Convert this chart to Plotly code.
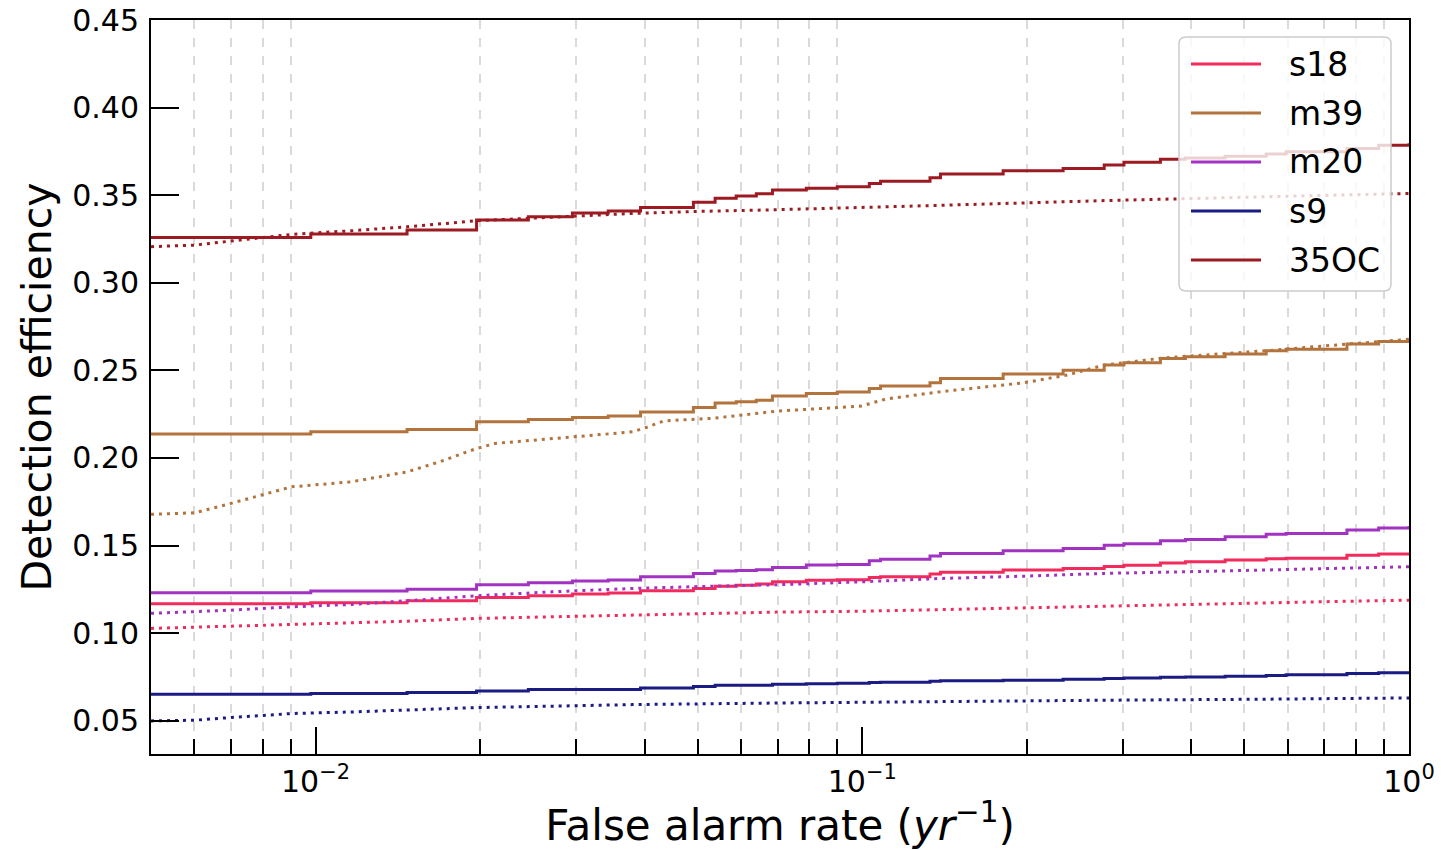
import math
import plotly.graph_objects as go

# ---------------- data ----------------
names = ["s18", "m39", "m20", "s9", "35OC"]
colors = ["#f22b5d", "#b3733d", "#a233c2", "#1b1b84", "#9c1a22"]

# false alarm rates (yr^-1) where the solid (step) curves change
far_steps = [0.005, 0.0098, 0.0147, 0.0197, 0.0245, 0.0295, 0.0343, 0.0393, 0.0491,
             0.0538, 0.0588, 0.064, 0.0685, 0.079, 0.090, 0.103, 0.108, 0.133, 0.139,
             0.181, 0.233, 0.277, 0.301, 0.351, 0.390, 0.461, 0.548, 0.596, 0.770,
             0.88, 1.0]

eff_s18 = [0.1168, 0.1174, 0.1185, 0.1204, 0.1213, 0.1223, 0.1229, 0.1242, 0.1255,
           0.1268, 0.1274, 0.1280, 0.1293, 0.1302, 0.1305, 0.1318, 0.1322, 0.1337, 0.1348,
           0.1360, 0.1369, 0.1380, 0.1388, 0.1401, 0.1408, 0.1417, 0.1424, 0.1428, 0.1445,
           0.1452, 0.1460]
eff_m39 = [0.2136, 0.2149, 0.2163, 0.2206, 0.2220, 0.2231, 0.2239, 0.2262, 0.2288,
           0.2313, 0.2321, 0.2330, 0.2353, 0.2368, 0.2376, 0.2397, 0.2410, 0.2429, 0.2454,
           0.2479, 0.2501, 0.2530, 0.2543, 0.2568, 0.2578, 0.2593, 0.2612, 0.2620, 0.2650,
           0.2665, 0.2677]
eff_m20 = [0.1231, 0.1240, 0.1250, 0.1276, 0.1288, 0.1297, 0.1303, 0.1322, 0.1341,
           0.1354, 0.1358, 0.1362, 0.1375, 0.1389, 0.1392, 0.1413, 0.1422, 0.1440, 0.1455,
           0.1470, 0.1483, 0.1502, 0.1510, 0.1527, 0.1535, 0.1550, 0.1565, 0.1569, 0.1588,
           0.1600, 0.1612]
eff_s9 = [0.0651, 0.0655, 0.0661, 0.0670, 0.0678, 0.0678, 0.0678, 0.0687, 0.0695,
          0.0703, 0.0703, 0.0703, 0.0708, 0.0711, 0.0714, 0.0718, 0.0720, 0.0725, 0.0728,
          0.0731, 0.0736, 0.0741, 0.0744, 0.0748, 0.0750, 0.0754, 0.0758, 0.0762, 0.0770,
          0.0774, 0.0777]
eff_35oc = [0.3259, 0.3278, 0.3301, 0.3358, 0.3377, 0.3398, 0.3409, 0.3430, 0.3459,
            0.3482, 0.3495, 0.3508, 0.3529, 0.3539, 0.3548, 0.3567, 0.3580, 0.3600, 0.3621,
            0.3640, 0.3653, 0.3672, 0.3688, 0.3705, 0.3712, 0.3722, 0.3735, 0.3748, 0.3767,
            0.3785, 0.3796]

# dotted curves
far_dot_35oc = [0.005, 0.00601, 0.00699, 0.0080, 0.00904, 0.01164, 0.01473, 0.0197,
                0.0271, 0.038, 0.0498, 0.0697, 0.139, 0.277, 0.548, 1.0]
dot_35oc = [0.3206, 0.3215, 0.3238, 0.3259, 0.3276, 0.3297, 0.3320, 0.3354,
            0.3373, 0.3396, 0.3407, 0.3417, 0.3442, 0.3469, 0.3491, 0.3510]

far_dot_m39 = [0.005, 0.00601, 0.00699, 0.0080, 0.00904, 0.01164, 0.01473, 0.01686,
               0.0197, 0.02134, 0.0271, 0.038, 0.0406, 0.0434, 0.0532, 0.0697, 0.0996,
               0.1103, 0.139, 0.1974, 0.2368, 0.277, 0.358, 0.548, 0.770, 1.0]
dot_m39 = [0.1678, 0.1687, 0.1740, 0.1792, 0.1835, 0.1864, 0.1921, 0.1978,
           0.2054, 0.2083, 0.2111, 0.2149, 0.2178, 0.2212, 0.2226, 0.2267, 0.2296,
           0.2336, 0.2378, 0.2429, 0.2473, 0.2530, 0.2572, 0.2612, 0.2650, 0.2677]

far_dot_mid = [0.005, 0.00699, 0.00904, 0.01164, 0.01473, 0.0197, 0.0271, 0.038,
               0.0532, 0.0697, 0.0996, 0.139, 0.1974, 0.277, 0.389, 0.548, 0.770, 1.0]
dot_m20 = [0.1113, 0.1131, 0.1150, 0.1164, 0.1185, 0.1213, 0.1236, 0.1255,
           0.1268, 0.1276, 0.1293, 0.1312, 0.1325, 0.1341, 0.1350, 0.1360, 0.1369, 0.1379]
dot_s18 = [0.1027, 0.1040, 0.1051, 0.1059, 0.1068, 0.1084, 0.1093, 0.1106,
           0.1116, 0.1120, 0.1125, 0.1135, 0.1144, 0.1154, 0.1164, 0.1175, 0.1182, 0.1188]

far_dot_s9 = [0.005, 0.00601, 0.00699, 0.0080, 0.00904, 0.01164, 0.0197, 0.0271,
              0.038, 0.0697, 0.139, 0.277, 0.548, 1.0]
dot_s9 = [0.0499, 0.0503, 0.0518, 0.0531, 0.0541, 0.0550, 0.0575, 0.0583,
          0.0592, 0.0601, 0.0611, 0.0617, 0.0623, 0.0630]

y_ticks = [0.05, 0.10, 0.15, 0.20, 0.25, 0.30, 0.35, 0.40, 0.45]
y_ticktext = ["0.05", "0.10", "0.15", "0.20", "0.25", "0.30", "0.35", "0.40", "0.45"]
x_ticks = [0.01, 0.1, 1]
x_ticktext = ["10<sup>−2</sup>", "10<sup>−1</sup>", "10<sup>0</sup>"]
x_minor = [0.006, 0.007, 0.008, 0.009, 0.02, 0.03, 0.04, 0.05, 0.06, 0.07, 0.08, 0.09,
           0.2, 0.3, 0.4, 0.5, 0.6, 0.7, 0.8, 0.9]

solid = {"s18": eff_s18, "m39": eff_m39, "m20": eff_m20, "s9": eff_s9, "35OC": eff_35oc}
dotted = {"s18": (far_dot_mid, dot_s18), "m39": (far_dot_m39, dot_m39),
          "m20": (far_dot_mid, dot_m20), "s9": (far_dot_s9, dot_s9),
          "35OC": (far_dot_35oc, dot_35oc)}

# ---------------- figure ----------------
W, H = 1441, 850
ML, MR, MT, MB = 151, 32, 20, 96
PW, PH = W - ML - MR, H - MT - MB
FONT = "DejaVu Sans"

fig = go.Figure()
for name, col in zip(names, colors):
    fig.add_trace(go.Scatter(x=far_steps, y=solid[name], mode="lines", name=name,
                             line=dict(color=col, width=3, shape="hv"), showlegend=False))
    dx, dy = dotted[name]
    fig.add_trace(go.Scatter(x=dx, y=dy, mode="lines", name=name + " (dotted)",
                             line=dict(color=col, width=3, dash="3px,5px"), showlegend=False))

fig.update_layout(
    width=W, height=H,
    margin=dict(l=ML, r=MR, t=MT, b=MB, autoexpand=False),
    paper_bgcolor="white", plot_bgcolor="white",
    font=dict(family=FONT, color="black"),
    showlegend=False,
)
fig.update_xaxes(
    type="log", range=[math.log10(0.005), 0], automargin=False,
    tickmode="array", tickvals=x_ticks, ticktext=x_ticktext,
    ticks="inside", ticklen=27, tickwidth=2, tickcolor="black",
    showgrid=False, zeroline=False,
    showline=True, linecolor="black", linewidth=2, mirror=True,
    tickfont=dict(family=FONT, size=30, color="black"),
    minor=dict(tickmode="array", tickvals=x_minor, ticks="inside", ticklen=15,
               tickwidth=2, tickcolor="black", showgrid=True,
               gridcolor="#dadada", gridwidth=1.5, griddash="dash"),
    title=dict(text="False alarm rate (<i>yr</i><sup>−1</sup>)",
               font=dict(family=FONT, size=42, color="black"), standoff=10),
)
fig.update_yaxes(
    range=[0.031, 0.45], automargin=False,
    tickmode="array", tickvals=y_ticks, ticktext=y_ticktext,
    ticks="inside", ticklen=28, tickwidth=2, tickcolor="black",
    showgrid=False, zeroline=False,
    showline=True, linecolor="black", linewidth=2, mirror=True,
    tickfont=dict(family=FONT, size=30, color="black"),
    ticklabelstandoff=4,
    title=dict(text="Detection efficiency",
               font=dict(family=FONT, size=41, color="black"), standoff=8),
)

# ---------------- legend (drawn like matplotlib's) ----------------
def px_x(p):
    return (p - ML) / PW

def px_y(p):
    return (H - MB - p) / PH

bx0, bx1, by0, by1 = px_x(1179), px_x(1391), px_y(291), px_y(37)
rx, ry = 7 / PW, 7 / PH
path = (f"M{bx0+rx},{by1} L{bx1-rx},{by1} Q{bx1},{by1} {bx1},{by1-ry} "
        f"L{bx1},{by0+ry} Q{bx1},{by0} {bx1-rx},{by0} L{bx0+rx},{by0} "
        f"Q{bx0},{by0} {bx0},{by0+ry} L{bx0},{by1-ry} Q{bx0},{by1} {bx0+rx},{by1} Z")
fig.add_shape(type="path", path=path, xref="paper", yref="paper", layer="above",
              fillcolor="rgba(255,255,255,0.8)", line=dict(color="#cccccc", width=1.5))
for i, (name, col) in enumerate(zip(names, colors)):
    yc = px_y(64 + i * 49)
    fig.add_shape(type="line", xref="paper", yref="paper", layer="above",
                  x0=px_x(1191), x1=px_x(1261), y0=yc, y1=yc,
                  line=dict(color=col, width=3))
    fig.add_annotation(x=px_x(1287), y=yc, xref="paper", yref="paper", text=name,
                       showarrow=False, xanchor="left", yanchor="middle",
                       font=dict(family=FONT, size=33, color="black"))

fig.write_html("out.html")
